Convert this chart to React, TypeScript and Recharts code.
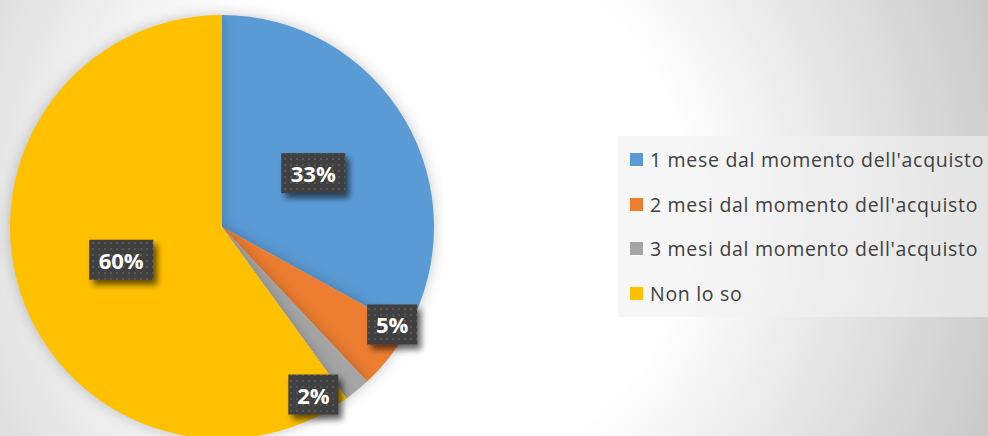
import { PieChart, Pie, Cell, Legend } from "recharts";

const categories = [
  "1 mese dal momento dell'acquisto",
  "2 mesi dal momento dell'acquisto",
  "3 mesi dal momento dell'acquisto",
  "Non lo so",
];
const shares = [33, 5, 2, 60];
const colors = ["#5b9bd5", "#ed7d31", "#a5a5a5", "#ffc000"];

// best-fit placement of the data labels (radius factor, angle shift in degrees)
const labelRadius = [0.5, 0.925, 0.9, 0.5];
const labelShift = [0, 8, -11, 0];

const data = categories.map((name, i) => ({ name, value: shares[i] }));

const RAD = Math.PI / 180;

function DataLabel(props: any) {
  const { cx, cy, midAngle, outerRadius, index, value } = props;
  const r = outerRadius * labelRadius[index];
  const a = (midAngle + labelShift[index]) * RAD;
  const x = cx + r * Math.cos(-a);
  const y = cy + r * Math.sin(-a);
  const text = `${value}%`;
  const w = 22 + 14 * text.length;
  const h = 40;
  return (
    <g>
      <defs>
        <pattern id={`dots-${index}`} width="6" height="6" patternUnits="userSpaceOnUse">
          <rect width="6" height="6" fill="#404040" />
          <rect x="2" y="2" width="2" height="2" fill="#575757" />
        </pattern>
        <filter id={`shadow-${index}`} x="-30%" y="-30%" width="160%" height="160%">
          <feGaussianBlur stdDeviation="3" />
        </filter>
      </defs>
      <rect
        x={x - w / 2 + 4}
        y={y - h / 2 + 5}
        width={w}
        height={h}
        fill="rgba(0,0,0,0.6)"
        filter={`url(#shadow-${index})`}
      />
      <rect x={x - w / 2} y={y - h / 2} width={w} height={h} fill={`url(#dots-${index})`} />
      <text
        x={x}
        y={y}
        textAnchor="middle"
        dominantBaseline="central"
        fill="#ffffff"
        fontFamily="'Open Sans', sans-serif"
        fontWeight={700}
        fontSize={22}
      >
        {text}
      </text>
    </g>
  );
}

function LegendBox() {
  return (
    <div
      style={{
        width: 370,
        height: 181,
        background: "rgba(242,242,242,0.6)",
        boxSizing: "border-box",
        paddingTop: 1,
        paddingLeft: 12,
      }}
    >
      {categories.map((name, i) => (
        <div
          key={name}
          style={{
            display: "flex",
            alignItems: "center",
            height: 44.7,
            fontFamily: "'Open Sans', sans-serif",
            fontSize: 19.5,
            letterSpacing: 0.7,
            color: "#404040",
            whiteSpace: "nowrap",
          }}
        >
          <span
            style={{
              display: "inline-block",
              width: 13,
              height: 13,
              background: colors[i],
              marginRight: 7,
            }}
          />
          {name}
        </div>
      ))}
    </div>
  );
}

export default function App() {
  return (
    <div
      style={{
        position: "absolute",
        left: 0,
        top: 0,
        width: 988,
        height: 436,
        overflow: "hidden",
        background:
          "radial-gradient(circle 640px at 420px 210px, #ffffff 42%, #c4c4c4 100%)",
      }}
    >
      <PieChart width={988} height={436} margin={{ top: 0, right: 0, bottom: 0, left: 0 }}>
        <Pie
          data={data}
          dataKey="value"
          nameKey="name"
          cx={222}
          cy={227}
          outerRadius={212}
          startAngle={90}
          endAngle={-270}
          stroke="none"
          isAnimationActive={false}
          labelLine={false}
          label={DataLabel}
          style={{ filter: "drop-shadow(0 0 7px rgba(0,0,0,0.22))" }}
        >
          {data.map((d, i) => (
            <Cell key={d.name} fill={colors[i]} />
          ))}
        </Pie>
        <Legend
          content={() => <LegendBox />}
          wrapperStyle={{ left: 618, top: 136, width: 370, height: 181 }}
        />
      </PieChart>
    </div>
  );
}
